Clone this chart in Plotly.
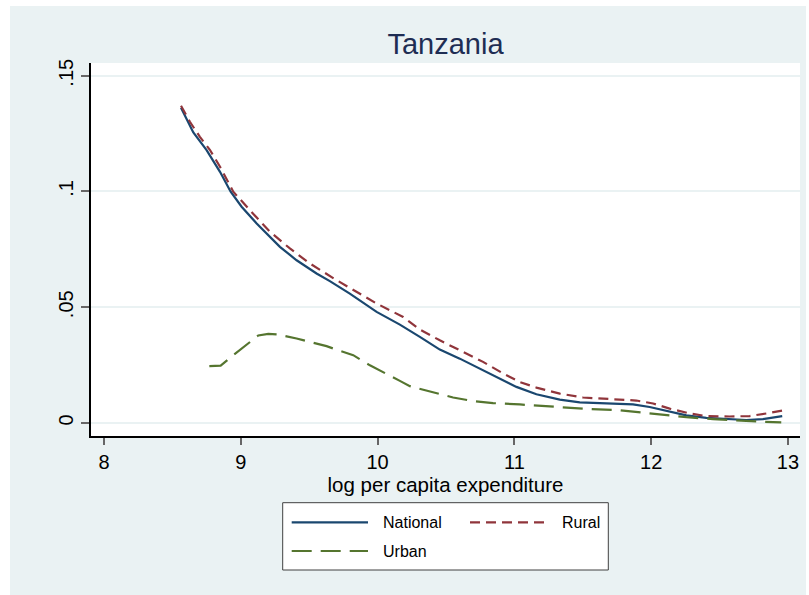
import plotly.graph_objects as go

# Local-polynomial share curves by log per capita expenditure
national_x = [8.563, 8.653, 8.750, 8.848, 8.926, 9.006, 9.116, 9.213, 9.286, 9.408,
              9.554, 9.651, 9.797, 9.993, 10.163, 10.309, 10.455, 10.601, 10.747, 10.893,
              11.015, 11.161, 11.332, 11.478, 11.673, 11.770, 11.867, 11.989, 12.135, 12.257,
              12.403, 12.549, 12.695, 12.817, 12.958]
national_y = [0.1362, 0.1255, 0.1179, 0.1085, 0.0999, 0.0934, 0.0862, 0.0804, 0.0761, 0.0703,
              0.0646, 0.0613, 0.0559, 0.0480, 0.0425, 0.0372, 0.0317, 0.0278, 0.0235, 0.0192,
              0.0156, 0.0124, 0.0101, 0.0089, 0.0084, 0.0081, 0.0080, 0.0069, 0.0048, 0.0033,
              0.0022, 0.0016, 0.0013, 0.0017, 0.0030]

rural_x = [8.563, 8.628, 8.701, 8.775, 8.848, 8.945, 9.067, 9.213, 9.359, 9.505,
           9.700, 9.846, 9.993, 10.187, 10.309, 10.455, 10.601, 10.771, 10.918, 11.040,
           11.161, 11.332, 11.502, 11.673, 11.770, 11.892, 12.014, 12.135, 12.281, 12.403,
           12.573, 12.720, 12.842, 12.963]
rural_y = [0.1370, 0.1301, 0.1236, 0.1179, 0.1107, 0.0999, 0.0919, 0.0826, 0.0754, 0.0689,
           0.0617, 0.0566, 0.0516, 0.0458, 0.0404, 0.0357, 0.0314, 0.0264, 0.0214, 0.0177,
           0.0153, 0.0127, 0.0110, 0.0104, 0.0101, 0.0097, 0.0084, 0.0062, 0.0041, 0.0030,
           0.0028, 0.0030, 0.0041, 0.0054]

urban_x = [8.770, 8.853, 8.945, 9.079, 9.128, 9.201, 9.274, 9.408, 9.505, 9.627,
           9.712, 9.822, 9.944, 10.090, 10.163, 10.236, 10.333, 10.552, 10.698, 10.844,
           11.040, 11.283, 11.527, 11.770, 11.916, 12.062, 12.257, 12.452, 12.622, 12.793,
           12.951]
urban_y = [0.0246, 0.0248, 0.0293, 0.0357, 0.0378, 0.0385, 0.0382, 0.0365, 0.0349, 0.0332,
           0.0314, 0.0293, 0.0249, 0.0206, 0.0182, 0.0159, 0.0144, 0.0110, 0.0095, 0.0086,
           0.0080, 0.0069, 0.0061, 0.0055, 0.0046, 0.0036, 0.0025, 0.0017, 0.0010, 0.0006,
           0.0003]

x_ticks = [8, 9, 10, 11, 12, 13]
y_ticks = [0, 0.05, 0.10, 0.15]
y_tick_labels = ["0", ".05", ".1", ".15"]

BG = "#EAF2F3"
NAVY = "#1A476F"
MAROON = "#90353B"
GREEN = "#55752F"
FONT = "Liberation Sans, Arial, sans-serif"

W, H = 809, 595
ML, MR, MT, MB = 91, 9, 63, 159
PW, PH = W - ML - MR, H - MT - MB


def px_x(p):
    return (p - ML) / PW


def px_y(p):
    return (H - MB - p) / PH


fig = go.Figure()
fig.add_trace(go.Scatter(x=national_x, y=national_y, mode="lines", name="National",
                         line=dict(color=NAVY, width=2.2)))
fig.add_trace(go.Scatter(x=rural_x, y=rural_y, mode="lines", name="Rural",
                         line=dict(color=MAROON, width=2.2, dash="10px,6px")))
fig.add_trace(go.Scatter(x=urban_x, y=urban_y, mode="lines", name="Urban",
                         line=dict(color=GREEN, width=2.2, dash="20px,9px")))

shapes = [
    # outer graph region
    dict(type="rect", xref="paper", yref="paper", layer="below",
         x0=px_x(10), x1=px_x(806), y0=px_y(595), y1=px_y(6),
         fillcolor=BG, line=dict(width=0)),
    # plot region
    dict(type="rect", xref="paper", yref="paper", layer="below",
         x0=0, x1=1, y0=0, y1=1, fillcolor="white", line=dict(width=0)),
    # legend box
    dict(type="rect", xref="paper", yref="paper",
         x0=px_x(282.7), x1=px_x(608.3), y0=px_y(570), y1=px_y(502.7),
         fillcolor="white", line=dict(color="#404040", width=1)),
]

legend_items = [
    ("National", NAVY, "solid", 291.7, 368, 381, 522.3),
    ("Rural", MAROON, "10px,6px", 470, 547.7, 560, 522.3),
    ("Urban", GREEN, "20px,9px", 291.7, 368, 381, 551),
]
annotations = []
for label, color, dash, lx0, lx1, tx, ly in legend_items:
    shapes.append(dict(type="line", xref="paper", yref="paper",
                       x0=px_x(lx0), x1=px_x(lx1), y0=px_y(ly), y1=px_y(ly),
                       line=dict(color=color, width=2.2, dash=dash)))
    annotations.append(dict(text=label, xref="paper", yref="paper",
                            x=px_x(tx), y=px_y(ly), xanchor="left", yanchor="middle",
                            showarrow=False, font=dict(family=FONT, size=16, color="black")))

fig.update_layout(
    width=W, height=H,
    margin=dict(l=ML, r=MR, t=MT, b=MB, autoexpand=False),
    paper_bgcolor="white", plot_bgcolor="white",
    showlegend=False,
    title=dict(text="Tanzania", x=0.5, xref="paper", y=1 - 43.5 / H, yanchor="middle",
               font=dict(family=FONT, size=29, color="#1E2D53")),
    shapes=shapes,
    annotations=annotations,
    font=dict(family=FONT, color="black"),
)

fig.update_xaxes(
    range=[7.905, 13.088], tickvals=x_ticks, ticks="outside", ticklen=7, tickwidth=1.5,
    tickcolor="#666666", showline=True, linecolor="black", linewidth=1.5,
    showgrid=False, zeroline=False, tickfont=dict(family=FONT, size=20, color="black"),
    title=dict(text="log per capita expenditure", standoff=1,
               font=dict(family=FONT, size=20.5, color="black")),
    automargin=False,
)
fig.update_yaxes(
    range=[-0.00562, 0.1555], tickvals=y_ticks, ticktext=y_tick_labels, tickangle=-90,
    ticks="outside", ticklen=8, tickwidth=1.5, tickcolor="#666666",
    showline=True, linecolor="black", linewidth=1.5,
    showgrid=True, gridcolor=BG, gridwidth=1.8, zeroline=False,
    tickfont=dict(family=FONT, size=20, color="black"), automargin=False,
)

fig.write_html("out.html")
